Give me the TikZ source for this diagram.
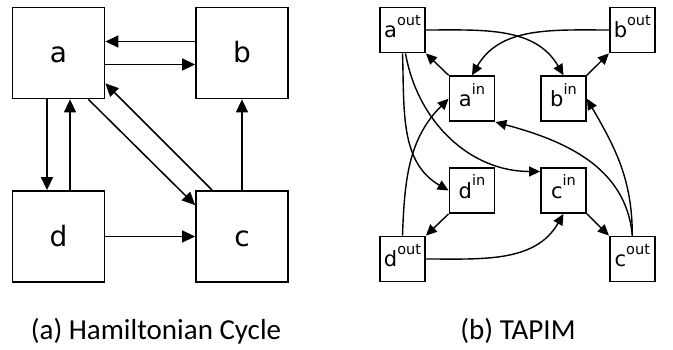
\documentclass[tikz,border=0pt]{standalone}
\usepackage{fontspec}
\setmainfont{DejaVu Sans}
\newfontfamily\capfont{Carlito}
\usetikzlibrary{arrows.meta}
\newcommand{\supx}[1]{\raisebox{12.5pt}{\fontsize{14.5}{14.5}\selectfont #1}}
\begin{document}
\begin{tikzpicture}[x=1pt,y=1pt,
 bigbox/.style={draw, line width=1.8pt, minimum width=92pt, minimum height=91pt, inner sep=0pt, text height=20pt, text depth=0pt, font=\fontsize{28}{28}\selectfont},
 smallbox/.style={draw, line width=1.8pt, minimum size=45pt, inner sep=0pt, text height=16pt, text depth=0pt, font=\fontsize{21}{21}\selectfont},
 bigarrow/.style={line width=1.5pt, -{Triangle[length=13pt,width=12pt]}},
 smallarrow/.style={line width=1.4pt, -{Triangle[length=11pt,width=10pt]}},
 capt/.style={font=\capfont\fontsize{29}{29}\selectfont, anchor=base, inner sep=0pt}]
\useasboundingbox (0,0) rectangle (673,350);
% left graph
\node[bigbox] (a) at (58.5,297) {a};
\node[bigbox] (b) at (242,297) {b};
\node[bigbox] (d) at (58.5,113.5) {d};
\node[bigbox] (c) at (242,113.5) {c};
\draw[bigarrow] ([yshift=11.5pt]b.west) -- ([yshift=11.5pt]a.east);
\draw[bigarrow] ([yshift=-11.5pt]a.east) -- ([yshift=-11.5pt]b.west);
\draw[bigarrow] ([xshift=-11.5pt]a.south) -- ([xshift=-11.5pt]d.north);
\draw[bigarrow] ([xshift=11.5pt]d.north) -- ([xshift=11.5pt]a.south);
\draw[bigarrow] (c.north) -- (b.south);
\draw[bigarrow] (d.east) -- (c.west);
\draw[bigarrow] ([xshift=-17pt]a.south east) -- ([yshift=-15pt]c.north west);
\draw[bigarrow] ([xshift=17pt]c.north west) -- ([yshift=16pt]a.south east);
% right graph
\node[smallbox] (aout) at (402.5,320) {a\supx{out}};
\node[smallbox] (bout) at (632.3,320) {b\supx{out}};
\node[smallbox] (ain) at (472,251.3) {a\supx{in}};
\node[smallbox] (bin) at (563.5,251.3) {b\supx{in}};
\node[smallbox] (din) at (472,159.5) {d\supx{in}};
\node[smallbox] (cin) at (563.5,159.5) {c\supx{in}};
\node[smallbox] (dout) at (402.5,91) {d\supx{out}};
\node[smallbox] (cout) at (632.3,91) {c\supx{out}};
\draw[smallarrow] (aout.east) to[out=0,in=120] (bin.north);
\draw[smallarrow] (bout.west) to[out=180,in=60] (ain.north);
\draw[smallarrow] (ain.north west) -- (aout.south east);
\draw[smallarrow] (bin.north east) -- (bout.south west);
\draw[smallarrow] (aout.south) to[out=-88,in=150] (din.west);
\draw[smallarrow] ([xshift=3pt]aout.south) to[out=-80,in=180] ([yshift=19pt]cin.west);
\draw[smallarrow] (dout.north) to[out=88,in=225] (ain.west);
\draw[smallarrow] (din.south west) -- (dout.north east);
\draw[smallarrow] (dout.east) to[out=0,in=-120] (cin.south);
\draw[smallarrow] (cin.south east) -- (cout.north west);
\draw[smallarrow] (cout.north) to[out=95,in=-15] (ain.south east);
\draw[smallarrow] (cout.north) to[out=90,in=-60] (bin.east);
% captions
\node[capt] (capa) at (156,10) {(a) Hamiltonian Cycle};
\node[capt] (capb) at (518,10) {(b) TAPIM};
\end{tikzpicture}
\end{document}
